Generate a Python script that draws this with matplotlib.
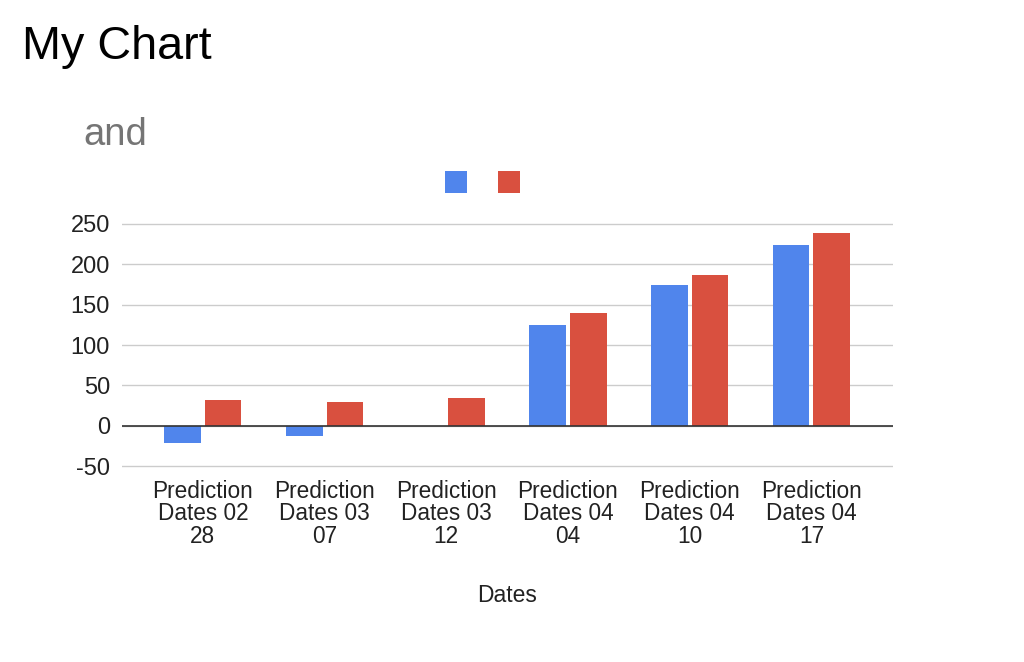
import numpy as np
from matplotlib import pyplot as plt
from matplotlib.patches import Patch

plt.rcParams['font.family'] = ['Liberation Sans', 'DejaVu Sans']

# data
categories = ['Prediction\nDates 02\n28', 'Prediction\nDates 03\n07', 'Prediction\nDates 03\n12',
              'Prediction\nDates 04\n04', 'Prediction\nDates 04\n10', 'Prediction\nDates 04\n17']
series_blue = [-21.5, -12.4, 0, 125.4, 174.9, 224.4]
series_red = [31.3, 28.9, 33.8, 139.4, 186.9, 238.5]
y_ticks = [-50, 0, 50, 100, 150, 200, 250]

BLUE = '#5085ec'
RED = '#d9503f'

fig = plt.figure(figsize=(10.24, 6.62), dpi=100)
ax = fig.add_axes([0.119, 0.2936, 0.753, 0.3705])

x = np.arange(len(categories))
w = 0.3
ax.bar(x - w / 2 - 0.017, series_blue, width=w, color=BLUE, zorder=3)
ax.bar(x + w / 2 + 0.017, series_red, width=w, color=RED, zorder=3)

ax.set_xlim(-0.666, 5.67)
ax.set_ylim(-52, 252)
ax.set_yticks(y_ticks)
ax.set_yticklabels([str(t) for t in y_ticks], fontsize=17, color='#222222')
ax.set_xticks(x)
ax.set_xticklabels(categories, fontsize=16.3, color='#222222', linespacing=0.96)
ax.tick_params(axis='both', length=0)
ax.tick_params(axis='y', pad=8.5)
ax.tick_params(axis='x', pad=9)
ax.grid(axis='y', color='#cccccc', linewidth=1, zorder=0)
ax.axhline(0, color='#333333', linewidth=1.2, zorder=4)
for s in ax.spines.values():
    s.set_visible(False)

ax.set_xlabel('Dates', fontsize=16.5, color='#222222', labelpad=26)

fig.text(22 / 1024, 1 - 47 / 662, 'My Chart', fontsize=33.7, va='center', ha='left', color='black')
fig.text(83 / 1024, 1 - 135 / 662, 'and', fontsize=27.5, va='center', ha='left', color='#757575')

handles = [Patch(facecolor=BLUE), Patch(facecolor=RED)]
fig.legend(handles, ['', ''], loc='center', bbox_to_anchor=(482.5 / 1024, 1 - 182 / 662),
           ncol=2, frameon=False, handlelength=1.3, handleheight=1.6, columnspacing=1.86,
           handletextpad=0, fontsize=12)

plt.savefig('out.png', dpi=100)
plt.close()
